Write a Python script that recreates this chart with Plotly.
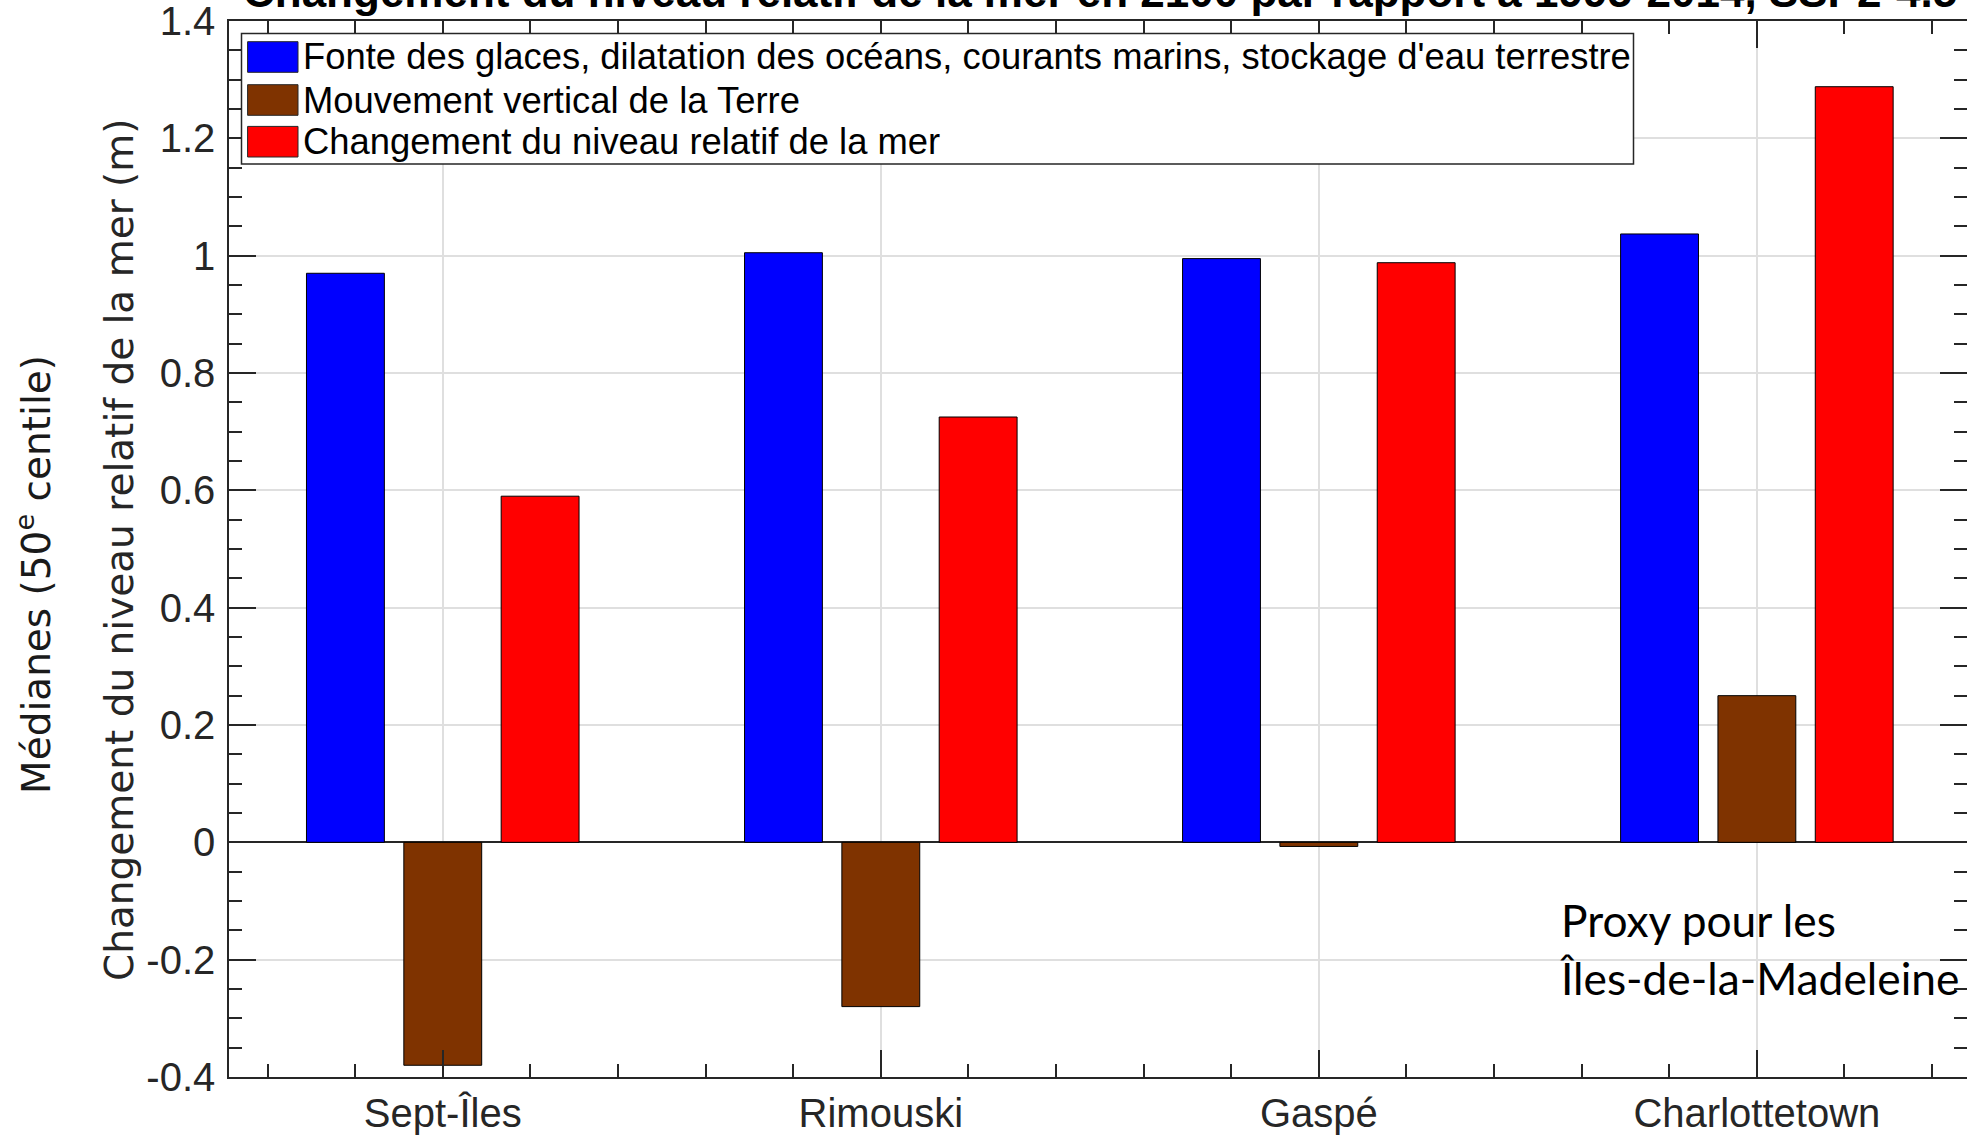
import plotly.graph_objects as go

# ---- data ----
categories = ["Sept-Îles", "Rimouski", "Gaspé", "Charlottetown"]
series_names = [
    "Fonte des glaces, dilatation des océans, courants marins, stockage d'eau terrestre",
    "Mouvement vertical de la Terre",
    "Changement du niveau relatif de la mer",
]
glaces_oceans = [0.970, 1.005, 0.995, 1.037]
mouvement_terre = [-0.380, -0.280, -0.007, 0.250]
niveau_relatif = [0.590, 0.725, 0.988, 1.288]
series_colors = ["#0000FF", "#7F3300", "#FF0000"]
y_tickvals = [-0.4, -0.2, 0, 0.2, 0.4, 0.6, 0.8, 1.0, 1.2, 1.4]
y_ticktext = ["-0.4", "-0.2", "0", "0.2", "0.4", "0.6", "0.8", "1", "1.2", "1.4"]
title_text = "Changement du niveau relatif de la mer en 2100 par rapport à 1995-2014, SSP2-4.5"
ylabel_line1 = "Médianes (50<sup>e</sup> centile)"
ylabel_line2 = "Changement du niveau relatif de la mer (m)"
note_text = "Proxy pour les<br>Îles-de-la-Madeleine"

positions = list(range(1, len(categories) + 1))
series_values = [glaces_oceans, mouvement_terre, niveau_relatif]

W, H = 1967, 1135
L, R, T, B = 229, 0, 21, 58
PW, PH = W - L - R, H - T - B


def px(x):
    return (x - L) / PW


def py(y):
    return (H - B - y) / PH


AX = "#262626"
fig = go.Figure()
for name, vals, col in zip(series_names, series_values, series_colors):
    fig.add_trace(go.Bar(x=positions, y=vals, name=name,
                         marker=dict(color=col, line=dict(color="black", width=1)),
                         showlegend=False))

fig.update_layout(
    width=W, height=H, autosize=False,
    margin=dict(l=L, r=R, t=T, b=B, pad=0),
    paper_bgcolor="white", plot_bgcolor="white",
    barmode="group", bargap=1/3, bargroupgap=0.2,
    font=dict(family="Liberation Sans, Arial", size=40, color=AX),
)

fig.update_xaxes(
    range=[0.512, 4.4797], tickmode="array", tickvals=positions, ticktext=categories,
    showline=True, linecolor=AX, linewidth=1.5, mirror="ticks",
    ticks="inside", ticklen=27, tickwidth=1.5, tickcolor=AX,
    showgrid=True, gridcolor="#dfdfdf", gridwidth=1.5,
    zeroline=False, ticklabelstandoff=0, ticklabeloverflow="allow", automargin=False,
    tickfont=dict(family="Liberation Sans, Arial", size=40, color=AX),
    minor=dict(tickmode="linear", tick0=0, dtick=0.2, ticks="inside", ticklen=13,
               tickwidth=1.5, tickcolor=AX, showgrid=False),
)
fig.update_yaxes(
    range=[-0.4, 1.4], tickmode="array", tickvals=y_tickvals, ticktext=y_ticktext,
    showline=True, linecolor=AX, linewidth=1.5, mirror="ticks",
    ticks="inside", ticklen=27, tickwidth=1.5, tickcolor=AX,
    showgrid=True, gridcolor="#dfdfdf", gridwidth=1.5,
    zeroline=True, zerolinecolor=AX, zerolinewidth=1.5, ticklabelstandoff=4,
    ticklabeloverflow="allow", automargin=False,
    tickfont=dict(family="Liberation Sans, Arial", size=40, color=AX),
    minor=dict(tickmode="linear", tick0=0, dtick=0.05, ticks="inside", ticklen=13,
               tickwidth=1.5, tickcolor=AX, showgrid=False),
)

annotations = []
# title (clipped at top as in the reference)
annotations.append(dict(text="<b>" + title_text + "</b>", xref="paper", yref="paper",
                        x=px(1100), y=py(-9), xanchor="center", yanchor="middle",
                        showarrow=False,
                        font=dict(family="Liberation Sans, Arial", size=44, color="black")))
# y-axis labels
annotations.append(dict(text=ylabel_line1, xref="paper", yref="paper",
                        x=px(34), y=py(575), xanchor="center", yanchor="middle",
                        textangle=-90, showarrow=False,
                        font=dict(family="DejaVu Sans", size=39, color="#1a1a1a")))
annotations.append(dict(text=ylabel_line2, xref="paper", yref="paper",
                        x=px(119), y=py(550), xanchor="center", yanchor="middle",
                        textangle=-90, showarrow=False,
                        font=dict(family="DejaVu Sans", size=39, color=AX)))
# note
annotations.append(dict(text=note_text, xref="x", yref="y", x=3.546, y=-0.1804,
                        xanchor="left", yanchor="middle", align="left", showarrow=False,
                        font=dict(family="Lato", size=44.3, color="black")))

# custom legend (large swatches like the reference)
shapes = [dict(type="rect", xref="paper", yref="paper",
               x0=px(241.5), x1=px(1633.5), y0=py(164), y1=py(33.5),
               line=dict(color=AX, width=1.5), fillcolor="white", layer="above")]
row_centers = [57, 100, 141.7]
for name, col, yc in zip(series_names, series_colors, row_centers):
    shapes.append(dict(type="rect", xref="paper", yref="paper",
                       x0=px(247.6), x1=px(298), y0=py(yc + 15.3), y1=py(yc - 15.3),
                       line=dict(color=AX, width=1), fillcolor=col, layer="above"))
    annotations.append(dict(text=name, xref="paper", yref="paper",
                            x=px(301), y=py(yc), xanchor="left", yanchor="middle",
                            showarrow=False,
                            font=dict(family="Liberation Sans, Arial", size=36.4, color="black")))

fig.update_layout(annotations=annotations, shapes=shapes)
fig.write_html("out.html", config={"displayModeBar": False},
               post_script="document.body.style.margin='0px';document.body.style.overflow='hidden';")
